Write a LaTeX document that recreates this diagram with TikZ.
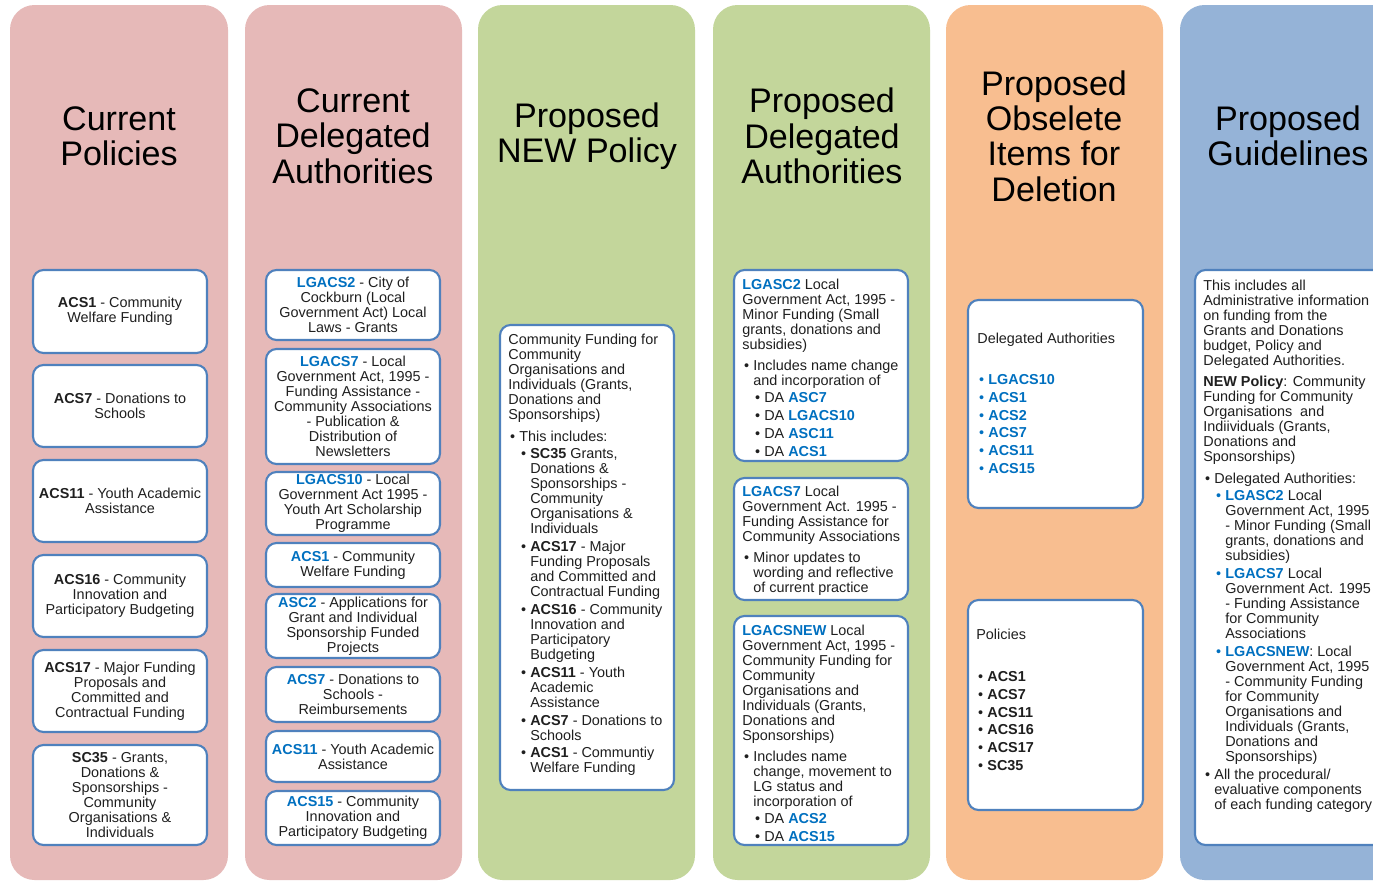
\documentclass[tikz,border=0pt]{standalone}
\usepackage{fontspec}
\setmainfont{Liberation Sans}
\usepackage{xcolor}
\usepackage{tikz}

\definecolor{pinkcol}{HTML}{E6B9B8}
\definecolor{greencol}{HTML}{C3D69B}
\definecolor{orangecol}{HTML}{F8BE90}
\definecolor{bluecol}{HTML}{95B3D7}
\definecolor{cardline}{HTML}{4F81BD}
\definecolor{lgblue}{HTML}{0070C0}

\newcommand{\blu}[1]{\textcolor{lgblue}{\textbf{#1}}}
\newcommand{\bA}{\hspace*{1pt}\makebox[5.3pt][l]{\textbullet}}
\newcommand{\bB}{\hspace*{7.3pt}\makebox[5.2pt][l]{\textbullet}}
\newcommand{\iA}{\hspace*{6.3pt}}
\newcommand{\iB}{\hspace*{12.5pt}}

\tikzset{
  column/.style={fill=#1, rounded corners=14pt},
  card/.style={draw=cardline, line width=1.2pt, fill=white, rounded corners=6pt},
  ttl/.style={align=center, font=\fontsize{19.4}{20.1}\selectfont},
  txt/.style={font=\fontsize{8.2}{8.54}\selectfont, inner sep=0pt, text=black!88},
}

\begin{document}
\begin{tikzpicture}[x=0.02cm,y=-0.02cm]
  \useasboundingbox[fill=white] (0,0) rectangle (1373,883);

  % background columns
  \foreach \xa/\xb/\c in {10/228/pinkcol, 245/462/pinkcol, 478/695/greencol,
                          713/930/greencol, 946/1163/orangecol, 1180/1420/bluecol}
    \fill[column=\c] (\xa,5) rectangle (\xb,880);

  % headings
  \node[ttl] (ttlpol)   at (119,136)  {Current\\Policies};
  \node[ttl] (ttlda)    at (353,136)  {Current\\Delegated\\Authorities};
  \node[ttl] (ttlnew)   at (587,136)  {Proposed\\NEW Policy};
  \node[ttl] (ttlpda)   at (822,136)  {Proposed\\Delegated\\Authorities};
  \node[ttl] (ttlobs)   at (1054,136) {Proposed\\Obselete\\Items for\\Deletion};
  \node[ttl] (ttlguide) at (1288,136) {Proposed\\Guidelines};

  % current policies
  \foreach \ya/\yb/\txt [count=\i] in {
      270/353/{\textbf{ACS1} - Community\\Welfare Funding},
      365/447/{\textbf{ACS7} - Donations to\\Schools},
      460/542/{\textbf{ACS11} - Youth Academic\\Assistance},
      555/637/{\textbf{ACS16} - Community\\Innovation and\\Participatory Budgeting},
      650/732/{\textbf{ACS17} - Major Funding\\Proposals and\\Committed and\\Contractual Funding},
      745/845/{\textbf{SC35} - Grants,\\Donations \&\\Sponsorships -\\Community\\Organisations \&\\Individuals}}
  {
    \draw[card] (33,\ya) rectangle (207,\yb);
    \node[txt,align=center] (pol\i) at (120,{(\ya+\yb)/2}) {\txt};
  }

  % current delegated authorities
  \foreach \ya/\yb/\txt [count=\i] in {
      270/340/{\blu{LGACS2} - City of\\Cockburn (Local\\Government Act) Local\\Laws - Grants},
      349/464/{\blu{LGACS7} - Local\\Government Act, 1995 -\\Funding Assistance -\\Community Associations\\- Publication \&\\Distribution of\\Newsletters},
      472/535/{\blu{LGACS10} - Local\\Government Act 1995 -\\Youth Art Scholarship\\Programme},
      543/587/{\blu{ACS1} - Community\\Welfare Funding},
      594/658/{\blu{ASC2} - Applications for\\Grant and Individual\\Sponsorship Funded\\Projects},
      667/722/{\blu{ACS7} - Donations to\\Schools -\\Reimbursements},
      731/782/{\blu{ACS11} - Youth Academic\\Assistance},
      791/845/{\blu{ACS15} - Community\\Innovation and\\Participatory Budgeting}}
  {
    \draw[card] (266,\ya) rectangle (440,\yb);
    \node[txt,align=center] (da\i) at (353,{(\ya+\yb)/2}) {\txt};
  }

  % proposed new policy
  \draw[card] (500,325) rectangle (674,790);
  \node[txt,align=left,anchor=north west] (newpol) at (508,334) {%
    Community Funding for\\
    Community\\
    Organisations and\\
    Individuals (Grants,\\
    Donations and\\
    Sponsorships)\\[4pt]
    \bA This includes:\\[1.1pt]
    \bB\textbf{SC35} Grants,\\
    \iB Donations \&\\
    \iB Sponsorships -\\
    \iB Community\\
    \iB Organisations \&\\
    \iB Individuals\\[1.6pt]
    \bB\textbf{ACS17} - Major\\
    \iB Funding Proposals\\
    \iB and Committed and\\
    \iB Contractual Funding\\[1.6pt]
    \bB\textbf{ACS16} - Community\\
    \iB Innovation and\\
    \iB Participatory\\
    \iB Budgeting\\[1.6pt]
    \bB\textbf{ACS11} - Youth\\
    \iB Academic\\
    \iB Assistance\\[1.6pt]
    \bB\textbf{ACS7} - Donations to\\
    \iB Schools\\[1.6pt]
    \bB\textbf{ACS1} - Communtiy\\
    \iB Welfare Funding};

  % proposed delegated authorities
  \draw[card] (734,270) rectangle (908,461);
  \node[txt,align=left,anchor=north west] (pdamin) at (742,279) {%
    \blu{LGASC2} Local\\
    Government Act, 1995 -\\
    Minor Funding (Small\\
    grants, donations and\\
    subsidies)\\[3.4pt]
    \bA Includes name change\\
    \iA and incorporation of\\[1.1pt]
    \bB DA \blu{ASC7}\\[1.6pt]
    \bB DA \blu{LGACS10}\\[1.6pt]
    \bB DA \blu{ASC11}\\[1.6pt]
    \bB DA \blu{ACS1}};

  \draw[card] (734,478) rectangle (908,600);
  \node[txt,align=left,anchor=north west] (pdaassoc) at (742,486) {%
    \blu{LGACS7} Local\\
    Government Act. 1995 -\\
    Funding Assistance for\\
    Community Associations\\[3.4pt]
    \bA Minor updates to\\
    \iA wording and reflective\\
    \iA of current practice};

  \draw[card] (734,616) rectangle (908,845);
  \node[txt,align=left,anchor=north west] (pdanew) at (742,625) {%
    \blu{LGACSNEW} Local\\
    Government Act, 1995 -\\
    Community Funding for\\
    Community\\
    Organisations and\\
    Individuals (Grants,\\
    Donations and\\
    Sponsorships)\\[3.4pt]
    \bA Includes name\\
    \iA change, movement to\\
    \iA LG status and\\
    \iA incorporation of\\[1.1pt]
    \bB DA \blu{ACS2}\\[1.6pt]
    \bB DA \blu{ACS15}};

  % obsolete items
  \draw[card] (968,300) rectangle (1143,508);
  \node[txt,align=left,anchor=north west] (obsda) at (977,333) {%
    Delegated Authorities\\[14.8pt]
    \textcolor{lgblue}{\bA\textbf{LGACS10}}\\[1.5pt]
    \textcolor{lgblue}{\bA\textbf{ACS1}}\\[1.5pt]
    \textcolor{lgblue}{\bA\textbf{ACS2}}\\[1.5pt]
    \textcolor{lgblue}{\bA\textbf{ACS7}}\\[1.5pt]
    \textcolor{lgblue}{\bA\textbf{ACS11}}\\[1.5pt]
    \textcolor{lgblue}{\bA\textbf{ACS15}}};

  \draw[card] (968,600) rectangle (1143,810);
  \node[txt,align=left,anchor=north west] (obspol) at (976,629) {%
    Policies\\[15.4pt]
    \bA\textbf{ACS1}\\[1.5pt]
    \bA\textbf{ACS7}\\[1.5pt]
    \bA\textbf{ACS11}\\[1.5pt]
    \bA\textbf{ACS16}\\[1.5pt]
    \bA\textbf{ACS17}\\[1.5pt]
    \bA\textbf{SC35}};

  % proposed guidelines
  \draw[card] (1195,270) rectangle (1420,845);
  \node[txt,align=left,anchor=north west] (guide) at (1203,280) {%
    This includes all\\
    Administrative information\\
    on funding from the\\
    Grants and Donations\\
    budget, Policy and\\
    Delegated Authorities.\\[3.4pt]
    \textbf{NEW Policy}: Community\\
    Funding for Community\\
    Organisations\ \ and\\
    Indiividuals (Grants,\\
    Donations and\\
    Sponsorships)\\[4pt]
    \bA Delegated Authorities:\\[1.1pt]
    \textcolor{lgblue}{\bB}\blu{LGASC2} Local\\
    \iB Government Act, 1995\\
    \iB - Minor Funding (Small\\
    \iB grants, donations and\\
    \iB subsidies)\\[1.6pt]
    \textcolor{lgblue}{\bB}\blu{LGACS7} Local\\
    \iB Government Act. 1995\\
    \iB - Funding Assistance\\
    \iB for Community\\
    \iB Associations\\[1.6pt]
    \textcolor{lgblue}{\bB}\blu{LGACSNEW}: Local\\
    \iB Government Act, 1995\\
    \iB - Community Funding\\
    \iB for Community\\
    \iB Organisations and\\
    \iB Individuals (Grants,\\
    \iB Donations and\\
    \iB Sponsorships)\\[1.6pt]
    \bA All the procedural/\\
    \iA evaluative components\\
    \iA of each funding category};
\end{tikzpicture}
\end{document}
